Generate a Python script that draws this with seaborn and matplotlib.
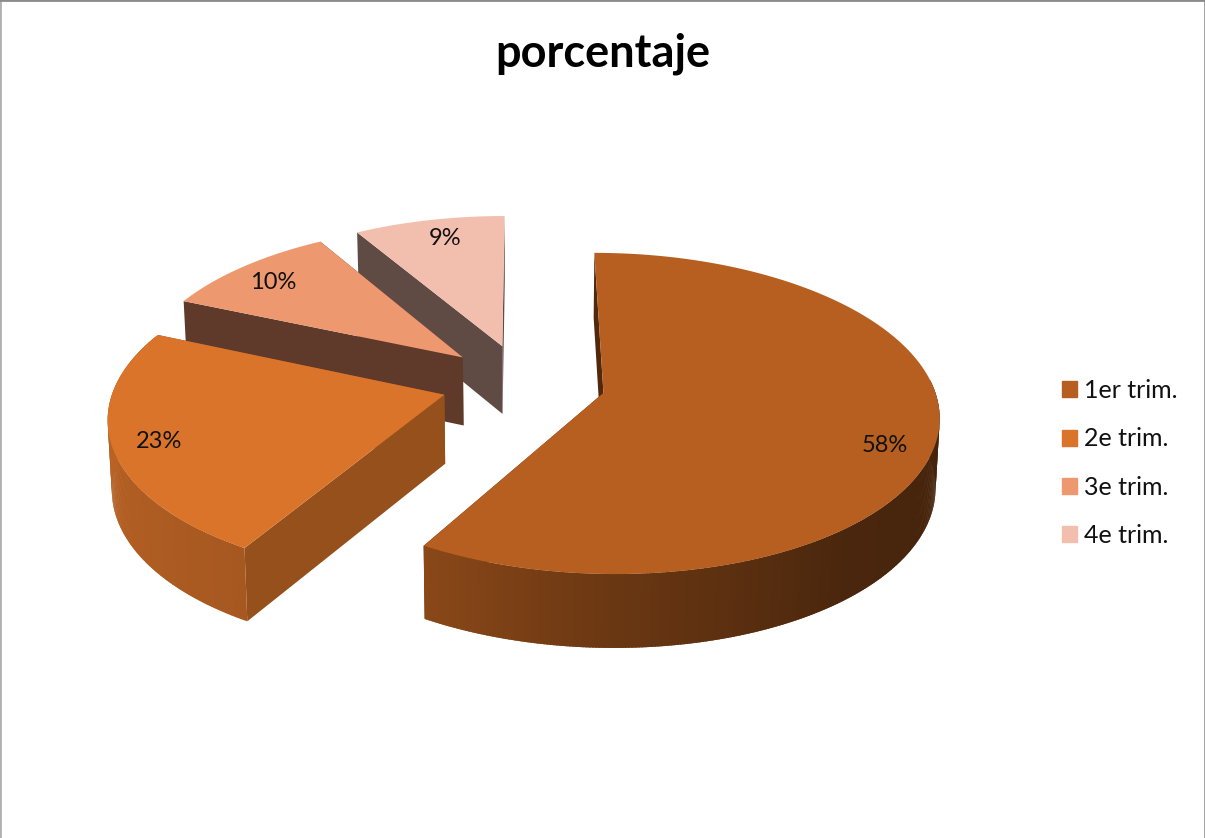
import numpy as np
import matplotlib
matplotlib.use("Agg")
import matplotlib.pyplot as plt
from matplotlib.patches import Patch
import seaborn as sns

# ------------------------------
# Data
# ------------------------------
title = "porcentaje"
quarters = ["1er trim.", "2e trim.", "3e trim.", "4e trim."]
percent = [58.49, 23.0, 10.0, 8.51]

top_colors = ["#B75F20", "#DB742B", "#EE9870", "#F2BFAF"]
cut_colors = ["#52280C", "#96501C", "#5F3A2B", "#5F4B44"]
label_nudge_x = [-1, -4, -1, 6]
label_nudge_y = [16, 4, 3, 1]

# ------------------------------
# Fake 3D view settings (pixels)
# ------------------------------
explode = 0.25
radius_x = 332
radius_y = 158
persp = 0.128
center_x = 523.4
center_y = 393
back_shift = 0.0665
depth = 69

sns.set_theme(style="white")
plt.rcParams["font.family"] = ["Lato", "DejaVu Sans"]
palette = sns.color_palette(top_colors)


def project(mid, r, ang, lower=False):
    # clockwise angles from the top, r in pie radii
    mid, ang = np.radians(mid), np.radians(ang)
    wx = explode * np.sin(mid) + r * np.sin(ang)
    wy = explode * np.cos(mid) + r * np.cos(ang) + back_shift
    f = 1 / (1 + persp * wy)
    x = wx * radius_x * f
    y = center_y - radius_y * wy * f
    if lower:
        return center_x + x * 0.99, y + depth * np.sqrt(f)
    return center_x + x, y


def wall_shade(ang):
    return np.interp(ang, [100, 140, 180, 211, 270, 300], [0.38, 0.40, 0.58, 0.76, 0.85, 0.85])


fig, ax = plt.subplots(figsize=(12.05, 8.38), dpi=100)
ax.set_position([0, 0, 1, 1])
ax.set_xlim(0, 1205)
ax.set_ylim(838, 0)
ax.set_xticks([])
ax.set_yticks([])

shares = np.array(percent) / sum(percent)
edges = np.concatenate([[0], np.cumsum(shares) * 360])

# ------------------------------
# Slices, back ones first
# ------------------------------
for i in [3, 2, 1, 0]:
    start, end = edges[i], edges[i + 1]
    mid = (start + end) / 2
    arc = np.linspace(start, end, int(end - start) * 2 + 2)

    # the two cut faces
    for a in [end, start]:
        xs = [project(mid, 1, a)[0], project(mid, 0, a)[0], project(mid, 0, a, True)[0], project(mid, 1, a, True)[0]]
        ys = [project(mid, 1, a)[1], project(mid, 0, a)[1], project(mid, 0, a, True)[1], project(mid, 1, a, True)[1]]
        ax.fill(xs, ys, color=cut_colors[i], lw=0)

    # outer wall, only the part facing us, in overlapping strips for the shading
    for a0, a1 in zip(arc[:-1], arc[1:]):
        if a0 < 85 or a0 >= 292:
            continue
        shade = wall_shade((a0 + a1) / 2)
        col = tuple(c * shade for c in palette[i])
        p0, p1 = project(mid, 1, a0), project(mid, 1, a1 + 0.4)
        q0, q1 = project(mid, 1, a0, True), project(mid, 1, a1 + 0.4, True)
        if a1 + 0.4 > end:
            p1, q1 = project(mid, 1, a1), project(mid, 1, a1, True)
        ax.fill([p0[0], p1[0], q1[0], q0[0]], [p0[1], p1[1], q1[1], q0[1]], color=col, lw=0)

    # top face
    rim_x, rim_y = project(mid, 1, arc)
    apex_x, apex_y = project(mid, 0, start)
    ax.fill(np.r_[apex_x, rim_x], np.r_[apex_y, rim_y], color=palette[i], lw=0)

    # percent label
    lx, ly = project(mid, 0.85, mid)
    ax.text(lx + label_nudge_x[i], ly + label_nudge_y[i], f"{percent[i]:.0f}%", ha="center", va="center",
            fontsize=17, color="#111111")

# ------------------------------
# Title, legend, frame
# ------------------------------
ax.text(603, 54, title, ha="center", va="center", fontsize=32.5, fontweight="bold", color="black")

handles = [Patch(color=palette[i], label=quarters[i]) for i in range(4)]
ax.legend(handles=handles, loc="center left", bbox_to_anchor=(1054.5, 463), bbox_transform=ax.transData,
          frameon=False, fontsize=18, handlelength=0.6, handleheight=0.6, handletextpad=0.28,
          labelspacing=1.01, borderpad=0, borderaxespad=0.3, labelcolor="#111111")

for side, col in [("top", "#8A8A8A"), ("left", "#B0B0B0"), ("right", "#999999")]:
    ax.spines[side].set_visible(True)
    ax.spines[side].set_color(col)
    ax.spines[side].set_linewidth(2)
ax.spines["bottom"].set_visible(False)

fig.savefig("out.png", dpi=100)
